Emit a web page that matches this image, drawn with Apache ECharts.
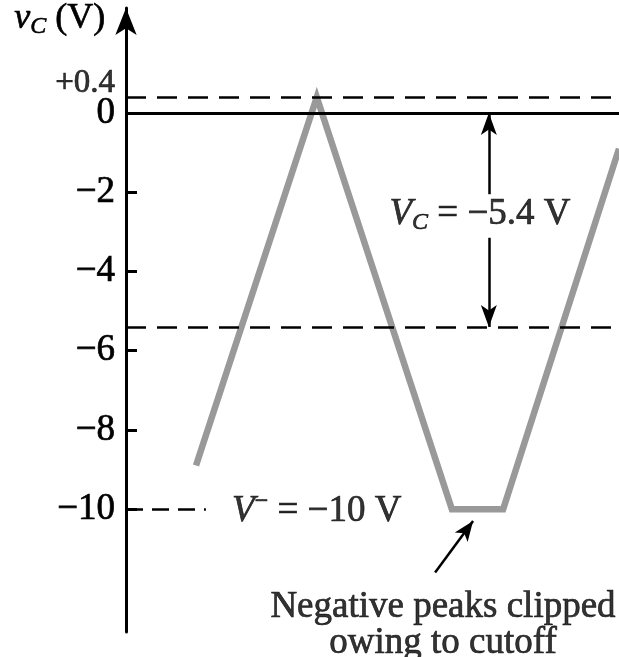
<!DOCTYPE html>
<html><head><meta charset="utf-8">
<script src="https://cdn.jsdelivr.net/npm/echarts@6/dist/echarts.min.js"></script>
<style>html,body{margin:0;padding:0;background:#fff}#c{width:619px;height:657px}</style>
</head><body><div id="c"></div>
<script>
// Collector voltage of an amplifier stage whose negative peaks are clipped at cutoff
const yLabelValues = [0, -2, -4, -6, -8, -10];
const yTickValues = [-2, -4, -6, -8, -10];
const waveTime = [14.2, 38.7, 66.1, 76.5, 100];
const waveVolts = [-8.9, 0.4, -10, -10, -0.9];
const satLevel = 0.4;     // upper clip level, +0.4 V
const biasLevel = -5.4;   // quiescent collector voltage V_C
const cutoffLevel = -10;  // supply V-
const dimTime = 73.6;     // where the V_C dimension arrow sits

const serif = 'Liberation Serif';
const ink = '#000';
const heavy = {textBorderColor: ink, textBorderWidth: 0.7};
const signed = v => (v < 0 ? '\u2212' + Math.abs(v) : (v > 0 ? '+' + v : String(v)));

const chart = echarts.init(document.getElementById('c'), null, {renderer: 'canvas'});
chart.setOption({
  animation: false,
  backgroundColor: '#fff',
  grid: {left: 126, right: 0, top: 8, bottom: 25},
  xAxis: {type: 'value', min: 0, max: 100, show: false},
  yAxis: {
    type: 'value', min: -13.1, max: 2.65,
    splitLine: {show: false},
    axisLine: {show: true, onZero: false, symbol: ['none', 'arrow'], symbolSize: [16, 27],
      lineStyle: {color: ink, width: 3}},
    axisTick: {show: true, inside: true, length: 11, customValues: yTickValues,
      lineStyle: {color: ink, width: 3}},
    axisLabel: Object.assign({
      customValues: yLabelValues, margin: 11, hideOverlap: false,
      fontFamily: serif, fontSize: 37, color: ink,
      formatter: v => signed(v)
    }, heavy)
  },
  graphic: [{
    type: 'text', left: 14, top: 0,
    style: Object.assign({
      text: '{v|v}{sub|C} {p|(V)}',
      rich: {
        v: Object.assign({fontFamily: serif, fontStyle: 'italic', fontSize: 36, fill: ink}, {stroke: ink, lineWidth: 0.7}),
        sub: {fontFamily: serif, fontStyle: 'italic', fontSize: 24, fill: ink, stroke: ink, lineWidth: 0.6, padding: [16, 0, 0, 0]},
        p: {fontFamily: serif, fontSize: 36, fill: ink, stroke: ink, lineWidth: 0.7}
      },
      fontFamily: serif, fontSize: 36, fill: ink
    })
  }],
  series: [
    {
      type: 'line',
      data: waveTime.map((t, i) => [t, waveVolts[i]]),
      symbol: 'none',
      lineStyle: {color: '#999', width: 6.5, join: 'miter'},
      z: 3,
      markLine: {
        silent: true, symbol: 'none', label: {show: false},
        data: [
          {yAxis: 0, lineStyle: {color: ink, width: 3, type: 'solid'}},
          {yAxis: satLevel, lineStyle: {color: ink, width: 2.5, type: [20, 11]}},
          {yAxis: biasLevel, lineStyle: {color: ink, width: 2.5, type: [20, 11]}},
          [{coord: [0, cutoffLevel], lineStyle: {color: ink, width: 2.5, type: [17, 9]}},
           {coord: [16.2, cutoffLevel]}],
          // V_C dimension arrows
          [{coord: [dimTime, -2.05], symbol: 'none', lineStyle: {color: ink, width: 2.5, type: 'solid'}},
           {coord: [dimTime, 0], symbol: 'arrow', symbolSize: [12, 22]}],
          [{coord: [dimTime, -3.15], symbol: 'none', lineStyle: {color: ink, width: 2.5, type: 'solid'}},
           {coord: [dimTime, biasLevel], symbol: 'arrow', symbolSize: [12, 22]}],
          // pointer to the clipped peak
          [{coord: [62.7, -11.6], symbol: 'none', lineStyle: {color: ink, width: 2.5, type: 'solid', curveness: -0.15}},
           {coord: [70.4, -10.3], symbol: 'arrow', symbolSize: [12, 20]}]
        ]
      }
    },
    {
      type: 'scatter', symbolSize: 0, silent: true, z: 5,
      label: Object.assign({show: true, position: 'inside', color: ink, fontFamily: serif, fontSize: 37}, heavy),
      data: [
        // +0.4 level tag, lifted clear of the 0 label
        {value: [0, satLevel], label: {formatter: signed(satLevel), position: 'left', distance: 11,
          offset: [0, -14], fontSize: 33}},
        {value: [71.8, -2.55], label: {
          formatter: '{it|V}{sub|C} = \u22125.4 V',
          rich: {
            it: Object.assign({fontFamily: serif, fontStyle: 'italic', fontSize: 37, color: ink}, heavy),
            sub: Object.assign({fontFamily: serif, fontStyle: 'italic', fontSize: 24, color: ink, padding: [18, 0, 0, 0]}, heavy)
          }
        }},
        {value: [38.7, -10.05], label: {
          formatter: '{it|V}{sup|\u2212} = \u221210 V',
          rich: {
            it: Object.assign({fontFamily: serif, fontStyle: 'italic', fontSize: 37, color: ink}, heavy),
            sup: Object.assign({fontFamily: serif, fontSize: 24, color: ink, padding: [0, 0, 18, 0]}, heavy)
          }
        }},
        {value: [64.3, -12.93], label: {
          formatter: 'Negative peaks clipped\nowing to cutoff',
          lineHeight: 36, align: 'center'
        }}
      ]
    }
  ]
});
</script></body></html>
